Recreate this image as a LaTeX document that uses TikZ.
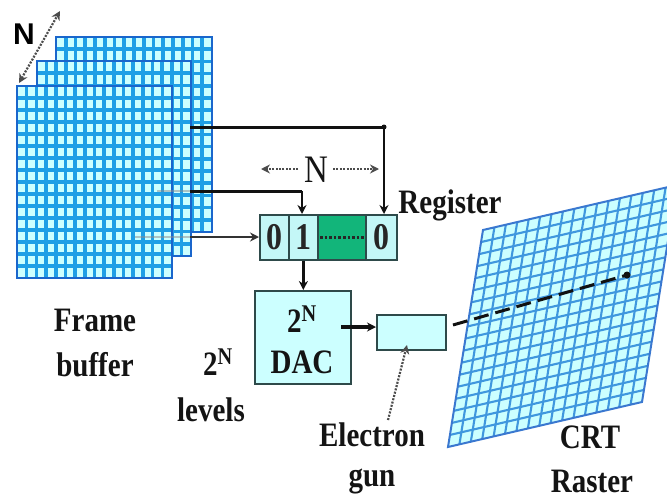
\documentclass[tikz,border=0pt]{standalone}
\usepackage{graphicx}
\usepackage{fontspec}
\setmainfont{Liberation Serif}
\newfontfamily\labelsans{Liberation Sans}
\usetikzlibrary{arrows.meta,calc}
\definecolor{cellfill}{HTML}{CCFFFF}
\definecolor{gridline}{HTML}{1E9FE6}
\definecolor{frameedge}{HTML}{1A66CC}
\definecolor{crtline}{HTML}{3F97DE}
\definecolor{crtedge}{HTML}{3A78D0}
\definecolor{regfill}{HTML}{C4F7F7}
\definecolor{reggreen}{HTML}{12B57A}
\definecolor{boxedge}{HTML}{2E4A4A}
\definecolor{wireink}{HTML}{111111}
\newcommand{\tallbox}[1]{\scalebox{1}[1.18]{#1}}
\tikzset{
  lbl/.style={font=\bfseries\fontsize{29}{30}\selectfont,text=black!92,inner sep=0pt},
  cellbox/.style={draw=boxedge,line width=1.7pt,fill=regfill,inner sep=0pt,minimum height=45pt,font=\bfseries\fontsize{32}{34}\selectfont,text=black!85},
  greenbox/.style={cellbox,fill=reggreen},
  wire/.style={draw=wireink,line width=3pt},
  wirearrow/.style={wire,-{Stealth[length=9pt,width=9pt]}},
  dotarrow/.style={draw=black!70,line width=2.2pt,dash pattern=on 2pt off 1.4pt},
  tipboth/.style={{Stealth[length=9pt,width=9pt]}-{Stealth[length=9pt,width=9pt]}},
  tipend/.style={-{Stealth[length=9pt,width=9pt]}},
  junction/.style={circle,fill=wireink,inner sep=0pt,minimum size=#1},
}
% x0 y0 x1 y1 columns rows
\newcommand{\gridframe}[6]{%
  \fill[cellfill] (#1,#2) rectangle (#3,#4);
  \foreach \i in {1,...,\numexpr#5-1\relax}
    \draw[gridline,line width=3.6pt] ({#1+(#3-#1)*\i/#5},#2) -- ({#1+(#3-#1)*\i/#5},#4);
  \foreach \j in {1,...,\numexpr#6-1\relax}
    \draw[gridline,line width=3.6pt] (#1,{#2+(#4-#2)*\j/#6}) -- (#3,{#2+(#4-#2)*\j/#6});
  \draw[frameedge,line width=2.4pt] (#1,#2) rectangle (#3,#4);
}
\begin{document}
\begin{tikzpicture}[x=1pt,y=-1pt]
\useasboundingbox (0,0) rectangle (667,498);
% frame buffer stack
\gridframe{56}{37}{212}{232}{16}{16}
\gridframe{37}{61}{191}{256}{16}{16}
\gridframe{17}{86}{172}{278}{16}{16}
% CRT raster
\begin{scope}
\clip (0,0) rectangle (667,498);
\coordinate (tl) at (483,230);
\coordinate (tr) at (677,185);
\coordinate (br) at (642,402);
\coordinate (bl) at (448,447);
\fill[cellfill] (tl) -- (tr) -- (br) -- (bl) -- cycle;
\foreach \i in {1,...,16}
  \draw[crtline,line width=2.1pt] ($(tl)!{\i/17}!(tr)$) -- ($(bl)!{\i/17}!(br)$);
\foreach \j in {1,...,17}
  \draw[crtline,line width=2.1pt] ($(tl)!{\j/18}!(bl)$) -- ($(tr)!{\j/18}!(br)$);
\draw[crtedge,line width=2pt] (tl) -- (tr) -- (br) -- (bl) -- cycle;
\end{scope}
% register
\node[cellbox,minimum width=29pt,anchor=north west] (r0) at (259,214) {\tallbox{0}};
\node[cellbox,minimum width=29pt,anchor=north west] (r1) at (288,214) {\tallbox{1}};
\node[greenbox,minimum width=48pt,anchor=north west] (rdots) at (317,214) {};
\node[cellbox,minimum width=31pt,anchor=north west] (rn) at (365,214) {\tallbox{0}};
\draw[draw=black!85,line width=3.2pt,dash pattern=on 2.6pt off 2pt] ($(rdots.west)+(3,0)$) -- ($(rdots.east)+(-3,0)$);
% DAC and gun
\node[cellbox,fill=cellfill,minimum width=96pt,minimum height=93pt,anchor=north west] (dac) at (254,290) {};
\node[lbl] (t2n) at (302,319) {\tallbox{2\textsuperscript{N}}};
\node[lbl] (tdac) at (302,362) {\tallbox{DAC}};
\node[cellbox,fill=cellfill,minimum width=69pt,minimum height=35pt,anchor=north west] (gun) at (376,314) {};
% free ends
\coordinate (f1) at (190,127);
\coordinate (c1) at (384,127);
\coordinate (f2) at (190,191);
\coordinate (c2) at (302,191);
\coordinate (f3) at (190,237);
\coordinate (da) at (341,327);
\coordinate (gs) at (453,325);
\coordinate (spot) at (627,275);
\coordinate (ga) at (388,420);
\coordinate (gb) at (407,345);
\coordinate (na) at (19,83);
\coordinate (nb) at (60,11);
\coordinate (la) at (298,169);
\coordinate (lb) at (261,169);
\coordinate (ra) at (333,169);
\coordinate (rb) at (379,169);
% connectors
\draw[black!45,line width=2pt,opacity=.5] (f2) -- (157,191);
\draw[black!45,line width=2pt,opacity=.5] (f3) -- (135,237);
\draw[wire] (f1) -- (c1);
\draw[wirearrow,line width=2.4pt] (c1) -- (rn.north -| c1);
\node[junction=5pt] (j1) at (c1) {};
\draw[wire] (f2) -- (c2);
\draw[wirearrow,line width=2.4pt] (c2) -- (r1.north -| c2);
\draw[wirearrow,line width=2pt,draw=black!80] (f3) -- (r0.west |- f3);
\draw[wirearrow] (r1.south) -- (dac.north -| r1.south);
\draw[wirearrow,line width=3.4pt] (da) -- (gun.west |- da);
\draw[wire,dash pattern=on 15pt off 7pt] (gs) -- (spot);
\node[junction=7pt] (j2) at (spot) {};
\draw[dotarrow,tipend] (ga) -- (gb);
\draw[dotarrow,tipboth] (na) -- (nb);
\draw[dotarrow,tipend] (la) -- (lb);
\draw[dotarrow,tipend] (ra) -- (rb);
% labels
\node[inner sep=0pt,font=\labelsans\bfseries\fontsize{30}{30}\selectfont] (tn) at (24,34) {N};
\node[lbl,font=\fontsize{33}{33}\selectfont] (tn2) at (316,170) {\tallbox{N}};
\node[lbl] (treg) at (450,205) {\tallbox{Register}};
\node[lbl] (tf) at (95,320) {\tallbox{Frame}};
\node[lbl] (tb) at (95,365) {\tallbox{buffer}};
\node[lbl] (tl2) at (218,362) {\tallbox{2\textsuperscript{N}}};
\node[lbl] (tlv) at (211,410) {\tallbox{levels}};
\node[lbl] (te) at (372,435) {\tallbox{Electron}};
\node[lbl] (tg) at (372,481) {\tallbox{gun}};
\node[lbl] (tc) at (590,437) {\tallbox{CRT}};
\node[lbl] (tr2) at (592,481) {\tallbox{Raster}};
\end{tikzpicture}
\end{document}
